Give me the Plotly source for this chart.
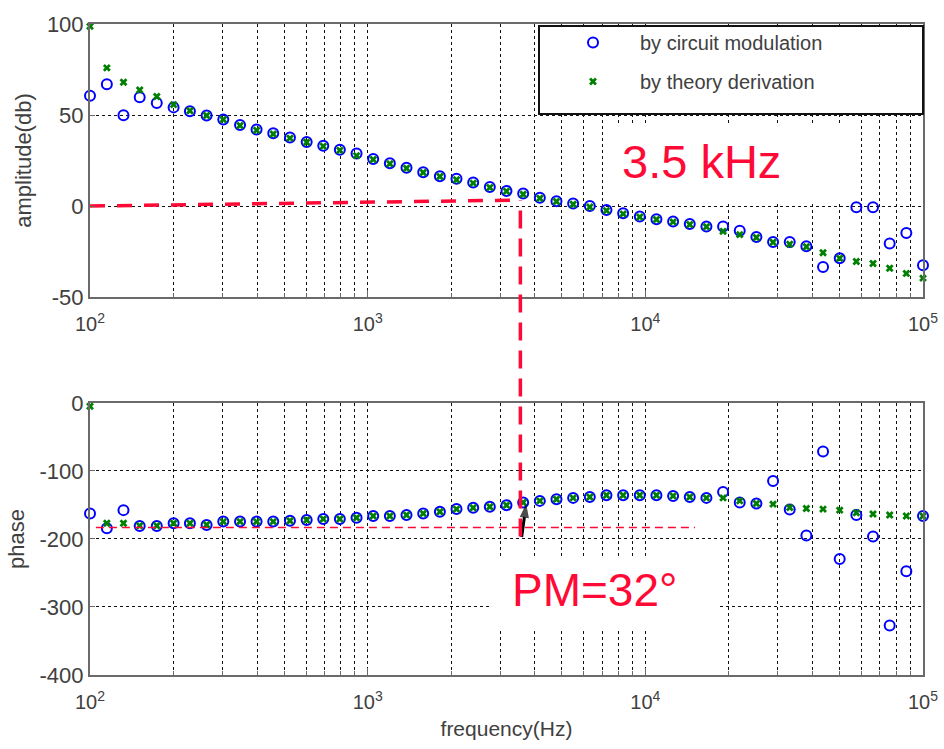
import plotly.graph_objects as go

# ---------------- data ----------------
freq_hz = [100, 115, 132, 151, 174, 200, 229, 263, 302, 347, 398, 457, 525, 603, 692,
           794, 912, 1047, 1202, 1380, 1585, 1820, 2089, 2399, 2754, 3162, 3631, 4169,
           4786, 5495, 6310, 7244, 8318, 9550, 10965, 12589, 14454, 16596, 19055, 21878,
           25119, 28840, 33113, 38019, 43652, 50119, 57544, 66069, 75858, 87096, 100000]

amp_circuit = [60.6, 66.9, 49.9, 59.8, 56.6, 54.2, 52.1, 49.7, 47.6, 44.5, 42.1, 40.0,
               37.6, 35.2, 33.1, 30.9, 28.9, 25.9, 23.5, 21.0, 18.6, 16.4, 15.0, 12.9,
               10.5, 8.3, 6.9, 4.5, 2.7, 1.4, 0.0, -2.2, -4.0, -5.8, -7.2, -8.5, -9.9,
               -11.2, -11.2, -13.6, -17.0, -19.7, -19.7, -22.1, -33.5, -28.7, -0.7, -0.7,
               -20.6, -14.8, -32.5]

amp_theory = [98.7, 75.9, 68.0, 63.8, 60.2, 55.7, 52.3, 49.7, 47.5, 44.2, 41.6, 39.6,
              37.3, 35.0, 32.9, 30.6, 27.7, 25.6, 23.2, 20.8, 18.4, 16.2, 14.4, 12.6,
              10.2, 8.1, 6.5, 4.3, 2.5, 1.0, -0.5, -2.5, -4.3, -6.0, -7.4, -8.7, -10.1,
              -11.4, -13.9, -15.7, -17.3, -19.9, -21.0, -22.4, -25.7, -28.7, -30.5, -31.6,
              -34.2, -37.0, -39.6]

phase_circuit = [-162.5, -184.2, -157.6, -180.9, -180.9, -177.0, -177.0, -179.4, -174.5,
                 -174.5, -174.5, -174.5, -173.1, -172.1, -170.7, -170.7, -168.7, -166.3,
                 -166.3, -164.8, -162.5, -160.0, -156.1, -154.2, -152.7, -150.3, -146.4,
                 -144.0, -141.6, -139.6, -138.2, -135.8, -135.8, -135.8, -135.8, -136.7,
                 -138.2, -139.6, -130.9, -146.4, -147.9, -114.9, -156.6, -194.9, -71.3,
                 -229.4, -164.8, -196.4, -327.3, -247.3, -166.3]

phase_theory = [-5.0, -177.0, -177.0, -180.5, -180.5, -177.0, -177.0, -179.0, -174.5,
                -174.5, -174.5, -174.5, -173.1, -172.1, -170.7, -170.7, -168.7, -166.3,
                -166.3, -164.8, -162.5, -160.0, -156.1, -154.2, -152.7, -150.3, -146.4,
                -144.0, -141.6, -139.6, -138.2, -135.8, -135.8, -135.8, -135.8, -136.7,
                -138.2, -139.6, -139.6, -144.0, -147.9, -148.8, -153.7, -155.2, -156.1,
                -157.6, -161.5, -163.4, -164.8, -166.3, -166.3]

series_names = ["by circuit modulation", "by theory derivation"]

x_major = [100, 1000, 10000, 100000]
x_major_text = ["10<sup>2</sup>", "10<sup>3</sup>", "10<sup>4</sup>", "10<sup>5</sup>"]
x_minor = [m * d for d in [100, 1000, 10000] for m in range(2, 10)]

amp_ticks = [-50, 0, 50, 100]
amp_ticktext = ["-50", "0", "50", "100"]
phase_ticks = [-400, -300, -200, -100, 0]
phase_ticktext = ["-400", "-300", "-200", "-100", "0"]

crossover_hz = 3548
crossover_db = 3.3
pm_line_deg = -183
pm_line_end_hz = 15100
arrow_tail = (3586, -197)
arrow_tip = (3724, -148)

# ---------------- styling ----------------
FONT = "Arial, 'Liberation Sans', sans-serif"
TXT = "#404040"
RED = "#ff0a36"
BLUE = "#0000ff"
GREEN = "#008000"
GRID = "#111111"
AXLINE = "#6a6a6a"

W, H = 944, 749
ML, MR, MT, MB = 90, 21, 17, 74

fig = go.Figure()

circle = dict(symbol="circle-open", size=10, color=BLUE, line=dict(width=2, color=BLUE))
cross = dict(symbol="x", size=7, color=GREEN, line=dict(width=0))

fig.add_trace(go.Scatter(x=freq_hz, y=amp_circuit, mode="markers", marker=circle,
                         name=series_names[0], legendgroup="a", xaxis="x", yaxis="y",
                         cliponaxis=False))
fig.add_trace(go.Scatter(x=freq_hz, y=amp_theory, mode="markers", marker=cross,
                         name=series_names[1], legendgroup="b", xaxis="x", yaxis="y",
                         cliponaxis=False))
fig.add_trace(go.Scatter(x=freq_hz, y=phase_circuit, mode="markers", marker=circle,
                         name=series_names[0], legendgroup="a", showlegend=False,
                         xaxis="x2", yaxis="y2", cliponaxis=False))
fig.add_trace(go.Scatter(x=freq_hz, y=phase_theory, mode="markers", marker=cross,
                         name=series_names[1], legendgroup="b", showlegend=False,
                         xaxis="x2", yaxis="y2", cliponaxis=False))

# red guide lines
fig.add_trace(go.Scatter(x=[freq_hz[0], crossover_hz], y=[0, crossover_db], mode="lines",
                         line=dict(color=RED, width=3.5, dash="15px,12px"),
                         showlegend=False, hoverinfo="skip", xaxis="x", yaxis="y"))
fig.add_trace(go.Scatter(x=[105, pm_line_end_hz], y=[pm_line_deg, pm_line_deg], mode="lines",
                         line=dict(color=RED, width=1.5, dash="8px,5px"),
                         showlegend=False, hoverinfo="skip", xaxis="x2", yaxis="y2"))
# black arrow
fig.add_trace(go.Scatter(x=[arrow_tail[0], arrow_tip[0]], y=[arrow_tail[1], arrow_tip[1]],
                         mode="lines+markers",
                         line=dict(color="black", width=3),
                         marker=dict(symbol="arrow", size=[0, 15], angleref="previous",
                                     color="black", line=dict(width=0)),
                         showlegend=False, hoverinfo="skip", xaxis="x2", yaxis="y2",
                         cliponaxis=False))

plot_h = H - MT - MB
top_dom = [(plot_h - 276) / plot_h, 1.0]
bot_dom = [0.0, 275 / plot_h]

xcommon = dict(type="log", range=[2, 5], tickmode="array", tickvals=x_major, ticktext=x_major_text,
               showgrid=True, gridcolor=GRID, gridwidth=1, griddash="dot",
               minor=dict(tickmode="array", tickvals=x_minor, showgrid=True, gridcolor=GRID,
                          gridwidth=1, griddash="dot", ticks="inside", ticklen=4,
                          tickcolor=AXLINE),
               showline=True, linecolor=AXLINE, linewidth=2, mirror=True,
               ticks="inside", ticklen=7, tickcolor=AXLINE, automargin=False,
               ticklabeloverflow="allow", ticklabelstandoff=8,
               tickfont=dict(family=FONT, size=20, color=TXT), zeroline=False)
ycommon = dict(showgrid=True, gridcolor=GRID, gridwidth=1, griddash="dot",
               showline=True, linecolor=AXLINE, linewidth=2, mirror=True,
               ticks="inside", ticklen=5, tickcolor=AXLINE, zeroline=False,
               automargin=True, tickmode="array", ticklabeloverflow="allow",
               tickfont=dict(family=FONT, size=22, color=TXT))

# pixel -> paper helpers for the reference-pixel layout
def px_x(px):
    return (px - ML) / (W - ML - MR)

def px_y(py):
    return (H - MB - py) / plot_h

fig.update_layout(
    width=W, height=H,
    margin=dict(l=ML, r=MR, t=MT, b=MB),
    paper_bgcolor="white", plot_bgcolor="white",
    font=dict(family=FONT, color=TXT),
    xaxis=dict(**xcommon, domain=[0, 1], anchor="y"),
    yaxis=dict(**ycommon, domain=top_dom, anchor="x", range=[-50, 100],
               tickvals=amp_ticks, ticktext=amp_ticktext,
               title=dict(text="amplitude(db)", standoff=9,
                          font=dict(family=FONT, size=22, color=TXT))),
    xaxis2=dict(**xcommon, domain=[0, 1], anchor="y2",
                title=dict(text="frequency(Hz)", standoff=9,
                           font=dict(family=FONT, size=21, color=TXT))),
    yaxis2=dict(**ycommon, domain=bot_dom, anchor="x2", range=[-400, 0],
                tickvals=phase_ticks, ticktext=phase_ticktext,
                title=dict(text="phase", standoff=9,
                           font=dict(family=FONT, size=22, color=TXT))),
    showlegend=True,
    legend=dict(x=px_x(546), y=px_y(16), xanchor="left", yanchor="top",
                bgcolor="rgba(0,0,0,0)", borderwidth=0, itemwidth=84,
                tracegroupgap=10, font=dict(family=FONT, size=20, color=TXT)),
)

shapes = [
    # white boxes behind the big labels (between grid and traces)
    dict(type="rect", xref="x", yref="y", x0=7160, x1=58350, y0=2.2, y1=45,
         fillcolor="white", line=dict(width=0), layer="between"),
    dict(type="rect", xref="x2", yref="y2", x0=2806, x1=18280, y0=-334.5, y1=-228.4,
         fillcolor="white", line=dict(width=0), layer="between"),
    # vertical crossover line spanning both panels
    dict(type="line", xref="x", yref="paper", x0=crossover_hz, x1=crossover_hz,
         y0=px_y(535), y1=px_y(195),
         line=dict(color=RED, width=3.5, dash="18px,10px"), layer="above"),
    # legend box
    dict(type="rect", xref="paper", yref="paper", x0=px_x(539), x1=1.0,
         y0=px_y(108), y1=px_y(19),
         fillcolor="white", line=dict(color="#111111", width=2), layer="above"),
]
fig.update_layout(shapes=shapes)

fig.add_annotation(text="3.5 kHz", xref="x", yref="y", x=4.204, y=24.4, showarrow=False,
                   font=dict(family=FONT, size=47, color=RED))
fig.add_annotation(text="PM=32°", xref="x2", yref="y2", x=3.817, y=-275, showarrow=False,
                   font=dict(family=FONT, size=46, color=RED))

fig.write_html("out.html", config={"displayModeBar": False},
               post_script="document.body.style.margin='0px';")
